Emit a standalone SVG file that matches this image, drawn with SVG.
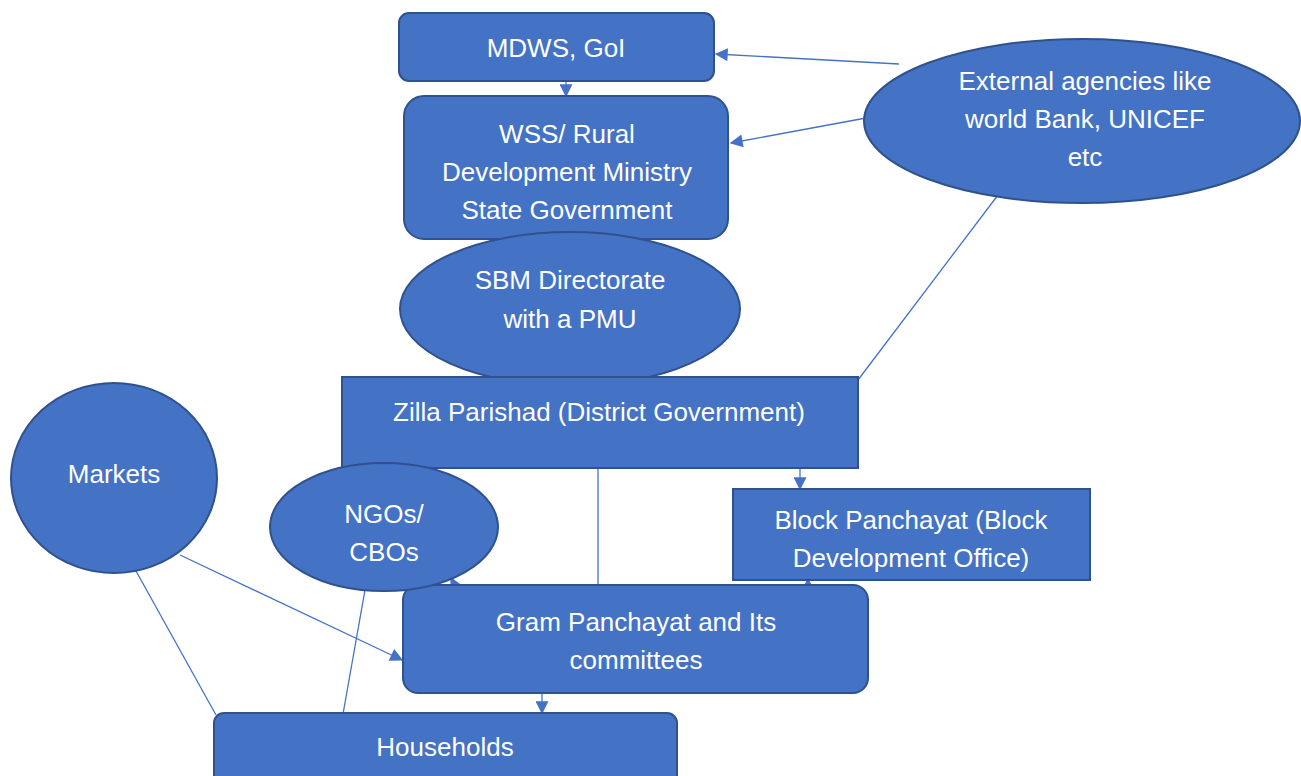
<svg xmlns="http://www.w3.org/2000/svg" width="1301" height="776" viewBox="0 0 1301 776">
<style>
.n{fill:#4472C4;stroke:#2F528F;stroke-width:2}
.t{fill:#fff;font-family:"Liberation Sans",Arial,sans-serif;font-size:26px;text-anchor:middle}
.c{stroke:#4472C4;stroke-width:1.3;fill:none}
</style>
<defs>
<marker id="a" viewBox="0 0 10 10" refX="9" refY="5" markerWidth="14" markerHeight="13" markerUnits="userSpaceOnUse" orient="auto">
<path d="M0,0L10,5L0,10z" fill="#4472C4"/>
</marker>
</defs>
<rect width="1301" height="776" fill="#fff"/>
<g id="connectors">
<line class="c" x1="899" y1="64" x2="716" y2="54" marker-end="url(#a)"/>
<line class="c" x1="866" y1="118" x2="731" y2="143" marker-end="url(#a)"/>
<line class="c" x1="998" y1="195" x2="858" y2="380"/>
<line class="c" x1="566" y1="81" x2="566" y2="96" marker-end="url(#a)"/>
<line class="c" x1="800" y1="468" x2="800" y2="489" marker-end="url(#a)"/>
<line class="c" x1="598" y1="468" x2="598" y2="585"/>
<line class="c" x1="808" y1="588" x2="808" y2="579" marker-end="url(#a)"/>
<line class="c" x1="456" y1="588" x2="451" y2="578" marker-end="url(#a)"/>
<line class="c" x1="180" y1="555" x2="402" y2="660" marker-end="url(#a)"/>
<line class="c" x1="136" y1="571" x2="216" y2="715"/>
<line class="c" x1="365" y1="590" x2="343" y2="714"/>
<line class="c" x1="542" y1="693" x2="542" y2="713" marker-end="url(#a)"/>
</g>
<g id="mdws"><rect class="n" x="399" y="13" width="315" height="68" rx="10"/><text class="t" x="556" y="57">MDWS, GoI</text></g>
<g id="external"><ellipse class="n" cx="1082" cy="121" rx="218" ry="82"/><text class="t" x="1085" y="90">External agencies like</text><text class="t" x="1085" y="128">world Bank, UNICEF</text><text class="t" x="1085" y="166">etc</text></g>
<g id="wss"><rect class="n" x="404" y="96" width="324" height="143" rx="20"/><text class="t" x="567" y="143">WSS/ Rural</text><text class="t" x="567" y="181">Development Ministry</text><text class="t" x="567" y="219">State Government</text></g>
<g id="sbm"><ellipse class="n" cx="570" cy="309" rx="170" ry="77"/><text class="t" x="570" y="289">SBM Directorate</text><text class="t" x="570" y="328">with a PMU</text></g>
<g id="zilla"><rect class="n" x="342" y="377" width="516" height="91"/><text class="t" x="599" y="421">Zilla Parishad (District Government)</text></g>
<g id="markets"><ellipse class="n" cx="114" cy="478" rx="103" ry="95"/><text class="t" x="114" y="483">Markets</text></g>
<g id="block"><rect class="n" x="733" y="489" width="357" height="91"/><text class="t" x="911" y="529">Block Panchayat (Block</text><text class="t" x="911" y="567">Development Office)</text></g>
<g id="gram"><rect class="n" x="403" y="585" width="465" height="108" rx="15"/><text class="t" x="636" y="631">Gram Panchayat and Its</text><text class="t" x="636" y="669">committees</text></g>
<g id="ngos"><ellipse class="n" cx="384" cy="527" rx="114" ry="64"/><text class="t" x="384" y="523">NGOs/</text><text class="t" x="384" y="561">CBOs</text></g>
<g id="households"><rect class="n" x="214" y="713" width="463" height="80" rx="10"/><text class="t" x="445" y="756">Households</text></g>
</svg>
